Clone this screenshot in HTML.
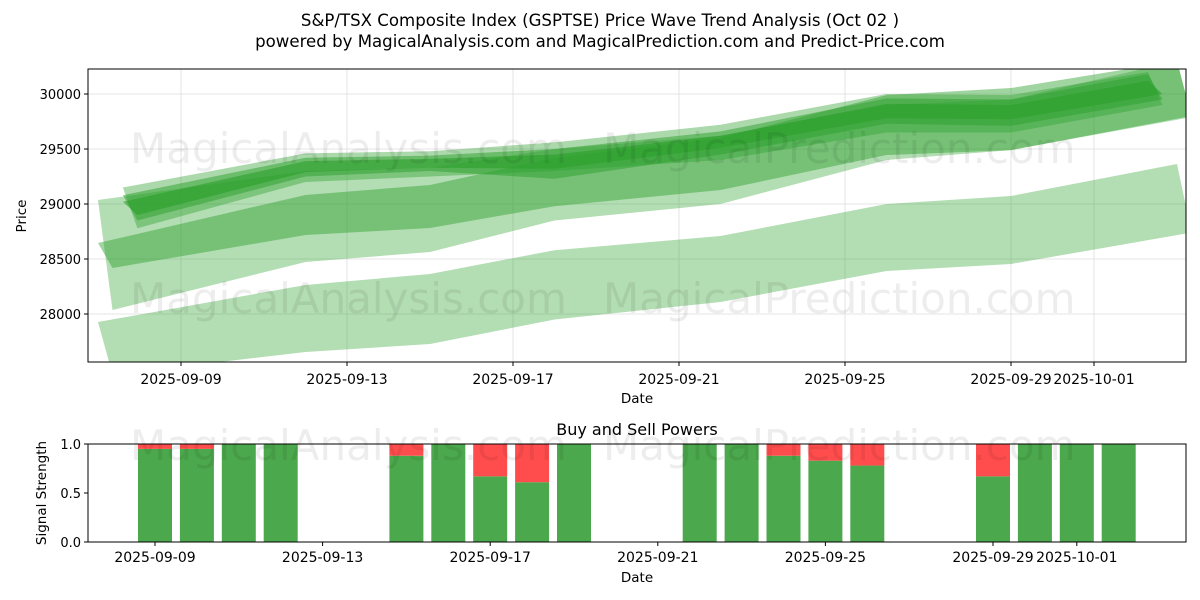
<!DOCTYPE html>
<html><head><meta charset="utf-8">
<style>
html,body{margin:0;padding:0;background:#fff;}
svg{display:block;font-family:"DejaVu Sans","Liberation Sans",sans-serif;}
</style></head>
<body>
<svg id="chart" width="1200" height="600" viewBox="0 0 1200 600" xmlns="http://www.w3.org/2000/svg">
<text x="600" y="26" text-anchor="middle" font-size="16.6">S&amp;P/TSX Composite Index (GSPTSE) Price Wave Trend Analysis (Oct 02 )</text>
<text x="600" y="47" text-anchor="middle" font-size="16.6">powered by MagicalAnalysis.com and MagicalPrediction.com and Predict-Price.com</text>
<g id="topg"></g>
<g id="botg"></g>
</svg>
<script>
// ---- data ----
var bandDates = ["09-07.9","09-12","09-15","09-18","09-22","09-26","09-29","10-03"];
var bandStartDay = [-2, -2, -2, -1.4, -1.4, -1.4];
var bandEndDay = [24, 24, 24, 23.3, 23.3, 23.3];
var band1Upper = [27927,28264,28364,28580,28709,29000,29073,29364];
var band1Lower = [27450,27655,27727,27950,28109,28391,28455,28740];
var band2Upper = [29036,29300,29330,29500,29620,29900,29950,30300];
var band2Lower = [28036,28473,28564,28850,29000,29400,29490,29790];
var band3Upper = [28645,29082,29173,29420,29600,29990,30054,30300];
var band3Lower = [28418,28718,28782,28980,29127,29445,29490,29800];
var band4Upper = [29150,29460,29480,29560,29720,30000,29990,30200];
var band4Lower = [28780,29200,29250,29300,29400,29650,29650,29900];
var band5Upper = [29080,29420,29440,29500,29660,29960,29950,30180];
var band5Lower = [28850,29250,29300,29230,29450,29730,29710,29950];
var band6Upper = [29020,29390,29410,29450,29620,29910,29900,30120];
var band6Lower = [28900,29290,29330,29320,29510,29780,29770,30000];
var bandAlpha = [0.36,0.36,0.45,0.4,0.5,0.6];

var priceTicks = [28000,28500,29000,29500,30000];
var xTickLabels = ["2025-09-09","2025-09-13","2025-09-17","2025-09-21","2025-09-25","2025-09-29","2025-10-01"];
var xTickDays = [0,4,8,12,16,20,22];

var barDays = [0,1,2,3,6,7,8,9,10,13,14,15,16,17,20,21,22,23];
var buyPower = [0.95,0.95,1,1,0.88,1,0.67,0.61,1,1,1,0.88,0.83,0.78,0.67,1,1,1];
var sellPower = [0.05,0.05,0,0,0.12,0,0.33,0.39,0,0,0,0.12,0.17,0.22,0.33,0,0,0];
var signalTicks = [0.0,0.5,1.0];

// ---- axes ----
var NS="http://www.w3.org/2000/svg";
function el(tag,attrs,parent){var e=document.createElementNS(NS,tag);for(var k in attrs)e.setAttribute(k,attrs[k]);parent.appendChild(e);return e;}
var T={l:88,r:1186,t:69,b:362};
function xTop(d){return 181+41.5*d;}
function yTop(v){return 94+(30000-v)/500*55;}
var B={l:88,r:1186,t:444,b:542};
function xBot(d){return 155+41.9*d;}
function yBot(v){return 542-v*98;}
function parseDay(s){var p=s.split("-");var m=+p[0],dd=parseFloat(p[1]);return (m===9?dd:30+dd)-9;}

var topG=document.getElementById('topg');
var botG=document.getElementById('botg');

function wm(x,y,t,n){var e=el('text',{x:x,y:y,'font-size':42,fill:'#000','fill-opacity':0.07},topG);e.textContent=t;

}

var defsClip=el('clipPath',{id:'clipTop'},el('defs',{},topG));
el('rect',{x:T.l,y:T.t,width:T.r-T.l,height:T.b-T.t},defsClip);
priceTicks.forEach(function(v){var y=yTop(v);
 var g=el('line',{x1:T.l,x2:T.r,y1:y,y2:y,stroke:'#ddd','stroke-width':0.8},topG);
 
 
 el('line',{x1:T.l-4,x2:T.l,y1:y,y2:y,stroke:'#000'},topG);
 var t=el('text',{x:T.l-7,y:y+5,'text-anchor':'end','font-size':13},topG);t.textContent=v;
 
 });
xTickDays.forEach(function(d,i){var x=xTop(d);
 var g=el('line',{x1:x,x2:x,y1:T.t,y2:T.b,stroke:'#ddd','stroke-width':0.8},topG);
 
 
 el('line',{x1:x,x2:x,y1:T.b,y2:T.b+4,stroke:'#000'},topG);
 var t=el('text',{x:x,y:T.b+22,'text-anchor':'middle','font-size':14},topG);t.textContent=xTickLabels[i];
 
 });

var bands=[[band1Upper,band1Lower],[band2Upper,band2Lower],[band3Upper,band3Lower],[band4Upper,band4Lower],[band5Upper,band5Lower],[band6Upper,band6Lower]];
var bg=el('g',{'clip-path':'url(#clipTop)'},topG);
bands.forEach(function(b,i){
 var days=bandDates.map(parseDay);days[0]=bandStartDay[i];days[days.length-1]=bandEndDay[i];
 var pts=[];
 for(var k=0;k<days.length;k++)pts.push(xTop(days[k])+','+yTop(b[0][k]));
 for(var k=days.length-1;k>=0;k--)pts.push(xTop(days[k]+(k===0||k===days.length-1?0.35:0))+','+yTop(b[1][k]));
 var p=el('polygon',{points:pts.join(' '),fill:'rgb(44,160,44)','fill-opacity':bandAlpha[i]},bg);
 
 
});
wm(130,163,'MagicalAnalysis.com','watermark-analysis-top');
wm(603,163,'MagicalPrediction.com','watermark-prediction-top');
wm(130,313,'MagicalAnalysis.com','watermark-analysis-mid');
wm(603,313,'MagicalPrediction.com','watermark-prediction-mid');
var fr=el('rect',{x:T.l,y:T.t,width:T.r-T.l,height:T.b-T.t,fill:'none',stroke:'#000','stroke-width':1},topG);


var xl=el('text',{x:637,y:403,'text-anchor':'middle','font-size':13.5},topG);xl.textContent='Date';


var yl=el('text',{x:26,y:216,'text-anchor':'middle','font-size':13.5,transform:'rotate(-90 26 216)'},topG);yl.textContent='Price';



var st=el('text',{x:637,y:435,'text-anchor':'middle','font-size':16},botG);st.textContent='Buy and Sell Powers';


barDays.forEach(function(d,i){var x=xBot(d)-17;
 var g=el('rect',{x:x,y:yBot(buyPower[i]),width:34,height:yBot(0)-yBot(buyPower[i]),fill:'#4ca84c'},botG);
 
 
 if(sellPower[i]>0){var r=el('rect',{x:x,y:yBot(buyPower[i]+sellPower[i]),width:34,height:yBot(buyPower[i])-yBot(buyPower[i]+sellPower[i]),fill:'#ff4d4d'},botG);
 
 }
});
var w1=el('text',{x:130,y:460,'font-size':42,fill:'#000','fill-opacity':0.07},botG);w1.textContent='MagicalAnalysis.com';


var w2=el('text',{x:603,y:460,'font-size':42,fill:'#000','fill-opacity':0.07},botG);w2.textContent='MagicalPrediction.com';


signalTicks.forEach(function(v){var y=yBot(v);
 el('line',{x1:B.l-4,x2:B.l,y1:y,y2:y,stroke:'#000'},botG);
 var t=el('text',{x:B.l-7,y:y+5,'text-anchor':'end','font-size':13},botG);t.textContent=v.toFixed(1);
 
 });
xTickDays.forEach(function(d,i){var x=xBot(d);
 el('line',{x1:x,x2:x,y1:B.b,y2:B.b+4,stroke:'#000'},botG);
 var t=el('text',{x:x,y:B.b+20,'text-anchor':'middle','font-size':14},botG);t.textContent=xTickLabels[i];
 
 });
var fr2=el('rect',{x:B.l,y:B.t,width:B.r-B.l,height:B.b-B.t,fill:'none',stroke:'#000','stroke-width':1},botG);


var xl2=el('text',{x:637,y:582,'text-anchor':'middle','font-size':13.5},botG);xl2.textContent='Date';


var yl2=el('text',{x:46,y:493,'text-anchor':'middle','font-size':13.5,transform:'rotate(-90 46 493)'},botG);yl2.textContent='Signal Strength';


</script>
</body></html>
